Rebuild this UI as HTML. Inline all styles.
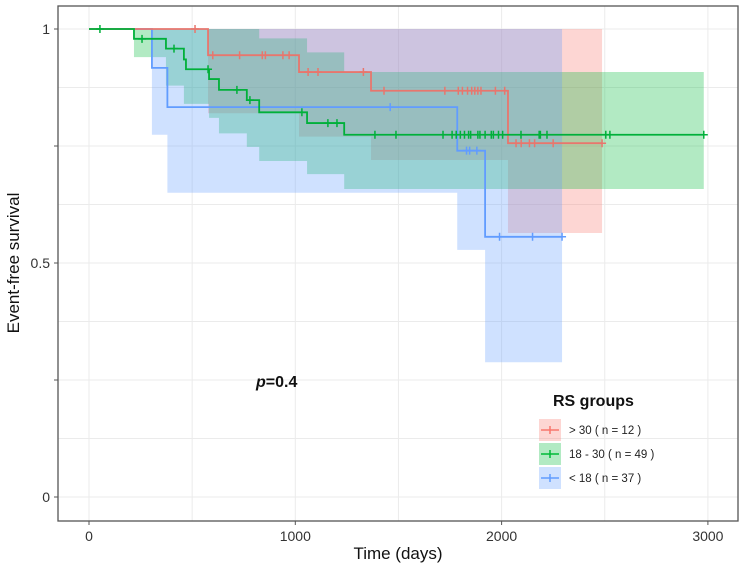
<!DOCTYPE html>
<html><head><meta charset="utf-8"><style>
body{margin:0;background:#fff;}
svg text{font-family:"Liberation Sans",sans-serif;}
</style></head><body>
<svg id="chart" width="749" height="572" xmlns="http://www.w3.org/2000/svg">
<g id="grid"></g>
<g id="bands"></g>
<g id="lines"></g>
<rect x="58" y="6" width="680" height="515" fill="none" stroke="#555" stroke-width="1.3"/>
<g id="axes"></g>
<text x="0" y="0" transform="translate(19,263) rotate(-90)" font-size="17" text-anchor="middle" fill="#111">Event-free survival</text>
<text x="398" y="559" font-size="17" text-anchor="middle" fill="#111">Time (days)</text>
<text x="256" y="387" font-size="16" font-weight="bold" fill="#111"><tspan font-style="italic">p</tspan>=0.4</text>
<g>
<text x="553" y="406" font-size="16" font-weight="bold" fill="#111">RS groups</text>
<g><rect x="539" y="419" width="22" height="22" fill="#F8766D" opacity="0.3"/><line x1="541" y1="430" x2="559" y2="430" stroke="#F8766D" stroke-width="1.5"/><line x1="550" y1="426" x2="550" y2="434" stroke="#F8766D" stroke-width="1.5"/><text x="569" y="434" font-size="11.5" fill="#222">&gt; 30 ( n = 12 )</text></g>
<g><rect x="539" y="443" width="22" height="22" fill="#00BA38" opacity="0.3"/><line x1="541" y1="454" x2="559" y2="454" stroke="#00BA38" stroke-width="1.5"/><line x1="550" y1="450" x2="550" y2="458" stroke="#00BA38" stroke-width="1.5"/><text x="569" y="458" font-size="11.5" fill="#222">18 - 30 ( n = 49 )</text></g>
<g><rect x="539" y="467" width="22" height="22" fill="#619CFF" opacity="0.3"/><line x1="541" y1="478" x2="559" y2="478" stroke="#619CFF" stroke-width="1.5"/><line x1="550" y1="474" x2="550" y2="482" stroke="#619CFF" stroke-width="1.5"/><text x="569" y="482" font-size="11.5" fill="#222">&lt; 18 ( n = 37 )</text></g>
</g>
</svg>
<script>
const xTicks=[0,1000,2000,3000];
const yTicks=[0,0.5,1];
const yTickLabels=["0","0.5","1"];
// step data: times where survival changes, survival values after each time (start at t=0,s=1)
const redTimes=[0,577,1018,1367,2031];
const redSurv=[1,0.944,0.908,0.868,0.756];
const redEnd=2487;
const redUpper=[1,1,1,1,1];
const redLower=[1,0.82,0.77,0.72,0.564];
const redCensor=[514,600,730,840,855,940,970,1062,1110,1330,1430,1725,1790,1810,1835,1855,1870,1885,1900,1970,2015,2070,2095,2135,2160,2250,2487];
const greenTimes=[0,218,373,460,470,582,630,765,825,1057,1237];
const greenSurv=[1,0.979,0.958,0.935,0.914,0.893,0.87,0.848,0.822,0.799,0.774];
const greenEnd=2980;
const greenUpper=[1,1,1,1,1,1,1,1,0.98,0.95,0.908];
const greenLower=[1,0.94,0.879,0.84,0.84,0.81,0.777,0.748,0.718,0.69,0.658];
const greenCensor=[53,257,412,577,717,780,1032,1158,1202,1386,1488,1716,1760,1780,1800,1820,1840,1850,1885,1895,1920,1950,1960,1985,2005,2094,2182,2188,2220,2505,2525,2980];
const blueTimes=[0,305,380,1785,1920];
const blueSurv=[1,0.917,0.833,0.74,0.556];
const blueEnd=2293;
const blueUpper=[1,1,1,1,1];
const blueLower=[1,0.774,0.65,0.528,0.288];
const blueCensor=[1460,1830,1845,1880,1990,2150,2293];

const X=t=>89+t*0.2063;
const Y=s=>29+(1-s)*468;
const NS="http://www.w3.org/2000/svg";
function mk(tag,attrs,parent){const e=document.createElementNS(NS,tag);for(const k in attrs)e.setAttribute(k,attrs[k]);parent.appendChild(e);return e;}
const grid=document.getElementById('grid'),bands=document.getElementById('bands'),lines=document.getElementById('lines'),axes=document.getElementById('axes');
for(let t=0;t<=3000;t+=500){const g=mk('line',{x1:X(t),x2:X(t),y1:6,y2:521,stroke:'#ebebeb','stroke-width':1},grid);

}
for(let s=0;s<=1.0001;s+=0.125){const g=mk('line',{x1:58,x2:738,y1:Y(s),y2:Y(s),stroke:'#ebebeb','stroke-width':1},grid);

}
xTicks.forEach(t=>{mk('line',{x1:X(t),x2:X(t),y1:521,y2:525,stroke:'#555'},axes);
const tx=mk('text',{x:X(t),y:541,'font-size':14,'text-anchor':'middle',fill:'#333'},axes);tx.textContent=t;

});
[0,0.25,0.5,0.75,1].forEach(s=>mk('line',{x1:54,x2:58,y1:Y(s),y2:Y(s),stroke:'#555'},axes));
yTicks.forEach((s,i)=>{const tx=mk('text',{x:50,y:Y(s)+5,'font-size':14,'text-anchor':'end',fill:'#333'},axes);tx.textContent=yTickLabels[i];

});
function band(times,up,lo,end,col,name){let top='',bot=[];
for(let i=0;i<times.length;i++){const x0=X(times[i]),x1=X(i+1<times.length?times[i+1]:end);
top+=(i?'L':'M')+x0+','+Y(up[i])+'L'+x1+','+Y(up[i]);bot.unshift('L'+x1+','+Y(lo[i])+'L'+x0+','+Y(lo[i]));}
const p=mk('path',{d:top+bot.join('')+'Z',fill:col,'fill-opacity':0.3},bands);

}
function curve(times,surv,end,cens,col,name){let d='';
for(let i=0;i<times.length;i++){const x0=X(times[i]),x1=X(i+1<times.length?times[i+1]:end);
d+=(i?'L':'M')+x0+','+Y(surv[i])+'L'+x1+','+Y(surv[i]);}
const p=mk('path',{d:d,fill:'none',stroke:col,'stroke-width':1.8},lines);


cens.forEach(t=>{let s=surv[0];for(let i=0;i<times.length;i++)if(times[i]<=t)s=surv[i];
const x=X(t),y=Y(s);const c=mk('path',{d:`M${x-4},${y}L${x+4},${y}M${x},${y-4}L${x},${y+4}`,stroke:col,'stroke-width':1.5},lines);

});}
band(redTimes,redUpper,redLower,redEnd,'#F8766D','gt30');
band(greenTimes,greenUpper,greenLower,greenEnd,'#00BA38','18-30');
band(blueTimes,blueUpper,blueLower,blueEnd,'#619CFF','lt18');
curve(blueTimes,blueSurv,blueEnd,blueCensor,'#619CFF','lt18');
curve(redTimes,redSurv,redEnd,redCensor,'#E8766D','gt30');
curve(greenTimes,greenSurv,greenEnd,greenCensor,'#00B03A','18-30');
</script>
</body></html>
